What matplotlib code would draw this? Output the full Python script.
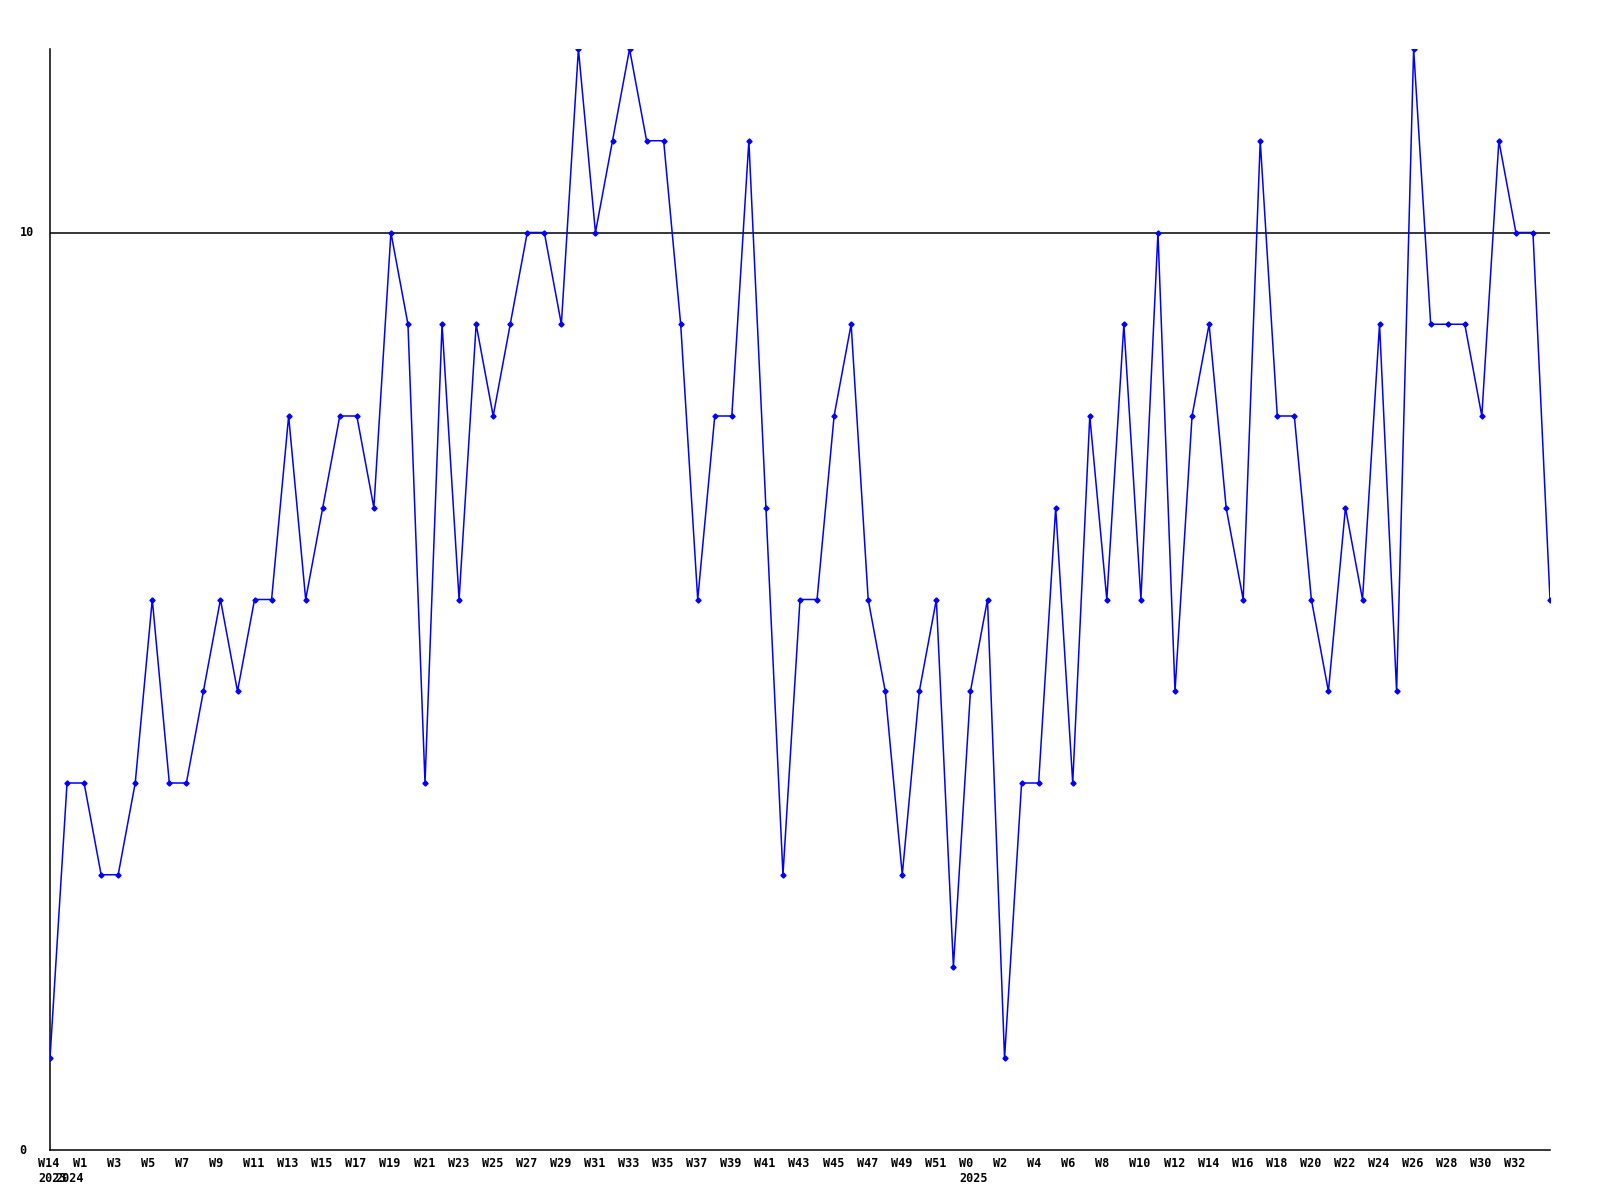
import matplotlib
matplotlib.use("Agg")
import matplotlib.pyplot as plt
from matplotlib.transforms import blended_transform_factory, ScaledTranslation

# Weekly values (2023 W14, then 2024 W0 .. 2025 W34)
values = [1, 4, 4, 3, 3, 4, 6, 4, 4, 5, 6, 5, 6, 6, 8, 6, 7, 8, 8, 7,
          10, 9, 4, 9, 6, 9, 8, 9, 10, 10, 9, 12, 10, 11, 12, 11, 11, 9, 6, 8,
          8, 11, 7, 3, 6, 6, 8, 9, 6, 5, 3, 5, 6, 2, 5, 6, 1, 4, 4, 7,
          4, 8, 6, 9, 6, 10, 5, 8, 9, 7, 6, 11, 8, 8, 6, 5, 7, 6, 9, 5,
          12, 9, 9, 9, 8, 11, 10, 10, 6]

# tick labels: index -> week label
week_labels = {0: "W14"}
for w in range(1, 52, 2):
    week_labels[w + 1] = f"W{w}"
for w in range(0, 33, 2):
    week_labels[54 + w] = f"W{w}"
year_labels = {0: "2023", 1: "2024", 54: "2025"}

y_ticks = [0, 10]
y_max = 12

fig = plt.figure(figsize=(16, 12), dpi=100)
ax = fig.add_axes([50 / 1600, 1 - 1150 / 1200, 1500 / 1600, 1101 / 1200])

x = list(range(len(values)))
ax.plot(x, values, color="#0000FF", lw=1.1, marker="D", ms=2.6,
        mfc="#0000FF", mec="#0000FF", clip_on=True, zorder=3)

ax.axhline(10, color="black", lw=1.1, zorder=2)

ax.set_xlim(0, len(values) - 1)
ax.set_ylim(0, y_max)
for s in ["top", "right"]:
    ax.spines[s].set_visible(False)
for s in ["left", "bottom"]:
    ax.spines[s].set_color("black")
    ax.spines[s].set_linewidth(1.1)

ax.set_xticks([])
ax.set_yticks([])

font = dict(family="DejaVu Sans Mono", weight="bold", fontsize=8.5, color="black")

trans_x = blended_transform_factory(ax.transData, ax.transAxes)
off1 = ScaledTranslation(-11.5 / 100, -7 / 100, fig.dpi_scale_trans)
off2 = ScaledTranslation(-11.5 / 100, -22 / 100, fig.dpi_scale_trans)
for i, lab in week_labels.items():
    ax.text(i, 0, lab, transform=trans_x + off1, ha="left", va="top", **font)
for i, lab in year_labels.items():
    ax.text(i, 0, lab, transform=trans_x + off2, ha="left", va="top", **font)

trans_y = blended_transform_factory(ax.transAxes, ax.transData)
offy = ScaledTranslation(-30.5 / 100, 0, fig.dpi_scale_trans)
for v in y_ticks:
    ax.text(0, v, str(v), transform=trans_y + offy, ha="left", va="center", **font)

fig.savefig("out.png", dpi=100)
